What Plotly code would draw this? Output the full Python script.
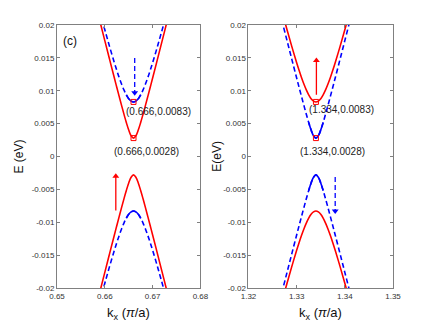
import plotly.graph_objects as go

# band offsets from the extremum (pi/a) and band energies (eV)
dk = [0, 0.0005, 0.001, 0.0015, 0.002, 0.0025, 0.003, 0.0035, 0.004, 0.005, 0.006, 0.007, 0.0075]
e_small = [0.0028, 0.00315, 0.00403, 0.00517, 0.00644, 0.00777, 0.00914, 0.01053,
           0.01193, 0.01477, 0.01762, 0.02049, 0.02193]
e_large = [0.0083, 0.00843, 0.00879, 0.00937, 0.01013, 0.01102, 0.01202, 0.01311,
           0.01426, 0.01671, 0.01928, 0.02193, 0.02328]

k_left = 0.666
k_right = 1.334

xticks_left = [0.65, 0.66, 0.67, 0.68]
xticks_right = [1.32, 1.33, 1.34, 1.35]
yticks = [0.02, 0.015, 0.01, 0.005, 0, -0.005, -0.01, -0.015, -0.02]
ytext = ["0.02", "0.015", "0.01", "0.005", "0", "-0.005", "-0.01", "-0.015", "-0.02"]

# arrows: (k, E start, E end, colour, style)
arrows_left = [(0.66625, 0.0150, 0.0097, "blue", "dash"), (0.6623, -0.0082, -0.0030, "red", "solid")]
arrows_right = [(1.3341, 0.0094, 0.0146, "red", "solid"), (1.3380, -0.0031, -0.0083, "blue", "dash")]

RED = "#ff0000"
BLUE = "#0000ff"
FONT = "Liberation Sans"


def full_band(k0, e, sign):
    ks = [k0 - d for d in reversed(dk[1:])] + [k0 + d for d in dk]
    es = [sign * v for v in reversed(e[1:])] + [sign * v for v in e]
    return ks, es


def core_band(k0, e, sign, lim=0.0015):
    ks, es = full_band(k0, e, sign)
    sel = [(a, b) for a, b in zip(ks, es) if abs(a - k0) <= lim + 1e-9]
    return [a for a, _ in sel], [b for _, b in sel]


fig = go.Figure()


def add_panel(k0, red_e, blue_e, xa, ya, arrows):
    for sign in (1, -1):
        ks, es = full_band(k0, red_e, sign)
        fig.add_trace(go.Scatter(x=ks, y=es, mode="lines", line=dict(color=RED, width=1.6, shape="spline"),
                                 xaxis=xa, yaxis=ya, showlegend=False, hoverinfo="skip"))
        ks, es = full_band(k0, blue_e, sign)
        fig.add_trace(go.Scatter(x=ks, y=es, mode="lines",
                                 line=dict(color=BLUE, width=1.6, dash="5px,3px", shape="spline"),
                                 xaxis=xa, yaxis=ya, showlegend=False, hoverinfo="skip"))
        ks, es = core_band(k0, blue_e, sign)
        fig.add_trace(go.Scatter(x=ks, y=es, mode="lines", line=dict(color=BLUE, width=1.6, shape="spline"),
                                 xaxis=xa, yaxis=ya, showlegend=False, hoverinfo="skip"))
    fig.add_trace(go.Scatter(x=[k0, k0], y=[red_e[0], blue_e[0]], mode="markers",
                             marker=dict(symbol="square-open", size=5, color=RED, line=dict(width=1)),
                             xaxis=xa, yaxis=ya, showlegend=False, hoverinfo="skip"))
    for k, e0, e1, col, dash in arrows:
        c = RED if col == "red" else BLUE
        sym = "triangle-up" if e1 > e0 else "triangle-down"
        fig.add_trace(go.Scatter(x=[k, k], y=[e0, e1], mode="lines",
                                 line=dict(color=c, width=1.3, dash="solid" if dash == "solid" else "5px,3px"),
                                 xaxis=xa, yaxis=ya, showlegend=False, hoverinfo="skip"))
        fig.add_trace(go.Scatter(x=[k], y=[e1], mode="markers", marker=dict(symbol=sym, size=6, color=c),
                                 xaxis=xa, yaxis=ya, showlegend=False, hoverinfo="skip"))


add_panel(k_left, e_small, e_large, "x", "y", arrows_left)
add_panel(k_right, e_large, e_small, "x2", "y2", arrows_right)

axis_style = dict(showline=True, linecolor="#808080", linewidth=1, mirror="ticks", ticks="inside",
                  ticklen=3, tickcolor="#808080", showgrid=False, zeroline=False,
                  tickfont=dict(family=FONT, size=8, color="#333333"))

# the page adds an 8px body margin, so the margins are trimmed by 8px
fig.update_layout(
    width=436, height=327,
    margin=dict(l=49, r=51, t=17, b=47),
    plot_bgcolor="white", paper_bgcolor="white",
    xaxis=dict(domain=[0, 0.4269], range=[0.65, 0.68], tickvals=xticks_left,
               ticktext=[f"{v:.2f}" for v in xticks_left], **axis_style),
    xaxis2=dict(domain=[0.5699, 1], range=[1.32, 1.35], tickvals=xticks_right,
                ticktext=[f"{v:.2f}" for v in xticks_right], anchor="y2", **axis_style),
    yaxis=dict(range=[-0.02, 0.02], tickvals=yticks, ticktext=ytext, **axis_style),
    yaxis2=dict(range=[-0.02, 0.02], tickvals=yticks, ticktext=ytext, anchor="x2", **axis_style),
)

lab = dict(family=FONT, size=10, color="#222222")
big = dict(family=FONT, size=12, color="#111111")
c = dict(showarrow=False, xanchor="center", yanchor="middle")
ann = [
    dict(x=0.67114, y=0.00685, xref="x", yref="y", text="(0.666,0.0083)", font=lab, **c),
    dict(x=0.66863, y=0.00081, xref="x", yref="y", text="(0.666,0.0028)", font=lab, **c),
    dict(x=1.33936, y=0.00716, xref="x2", yref="y2", text="(1.334,0.0083)", font=lab, **c),
    dict(x=1.33739, y=0.00081, xref="x2", yref="y2", text="(1.334,0.0028)", font=lab, **c),
    dict(x=0.6528, y=0.0176, xref="x", yref="y", text="(c)", font=big, **c),
    dict(x=-0.116, y=0.5, xref="paper", yref="paper", text="E (eV)", textangle=-90, font=big, **c),
    dict(x=0.4737, y=0.5, xref="paper", yref="paper", text="E(eV)", textangle=-90, font=big, **c),
    dict(x=0.2134, y=-0.098, xref="paper", yref="paper", text="k<sub>x</sub> (<i>π</i>/a)",
         font=dict(family=FONT, size=13, color="#111111"), **c),
    dict(x=0.7849, y=-0.098, xref="paper", yref="paper", text="k<sub>x</sub> (<i>π</i>/a)",
         font=dict(family=FONT, size=13, color="#111111"), **c),
]
fig.update_layout(annotations=ann)

fig.write_html("out.html")
